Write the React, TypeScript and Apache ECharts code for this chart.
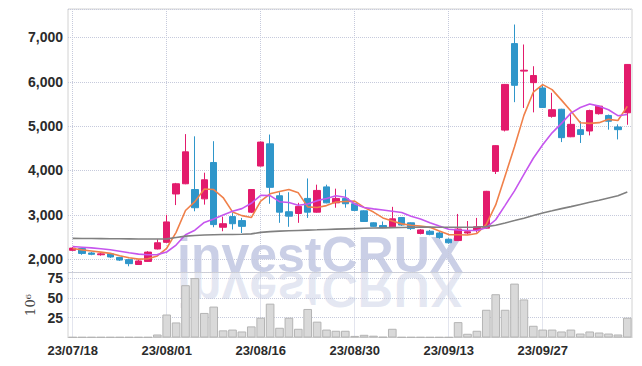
import React, { useEffect, useRef } from 'react';
import * as echarts from 'echarts';

const dates = [
  '23/07/18', '23/07/19', '23/07/20', '23/07/21', '23/07/24', '23/07/25', '23/07/26', '23/07/27', '23/07/28', '23/07/31',
  '23/08/01', '23/08/02', '23/08/03', '23/08/04', '23/08/07', '23/08/08', '23/08/09', '23/08/10', '23/08/11', '23/08/14',
  '23/08/16', '23/08/17', '23/08/18', '23/08/21', '23/08/22', '23/08/23', '23/08/24', '23/08/25', '23/08/28', '23/08/29',
  '23/08/30', '23/08/31', '23/09/01', '23/09/04', '23/09/05', '23/09/06', '23/09/07', '23/09/08', '23/09/11', '23/09/12',
  '23/09/13', '23/09/14', '23/09/15', '23/09/18', '23/09/19', '23/09/20', '23/09/21', '23/09/22', '23/09/25', '23/09/26',
  '23/09/27', '23/10/04', '23/10/05', '23/10/06', '23/10/10', '23/10/11', '23/10/12', '23/10/13', '23/10/16', '23/10/17',
];

const opens = [
  2200, 2240, 2140, 2100, 2120, 2040, 1990, 1880, 1950, 2230,
  2380, 3470, 3700, 3570, 3360, 4180, 2720, 2960, 2870, 3060,
  4100, 4600, 3430, 3070, 3030, 3370, 3060, 3630, 3270, 3370,
  3250, 3090, 2820, 2760, 2730, 2940, 2820, 2580, 2630, 2590,
  2450, 2420, 2590, 2650, 2700, 3980, 4910, 6860, 6240, 5980,
  5860, 5220, 5380, 4760, 4920, 4890, 5280, 5240, 4980, 5300,
];
const closes = [
  2250, 2130, 2110, 2120, 2050, 1980, 1900, 1960, 2160, 2370,
  2840, 3700, 4420, 3160, 3790, 2780, 2800, 2800, 2740, 3570,
  4640, 3620, 3060, 2970, 3190, 3060, 3550, 3270, 3370, 3250,
  3100, 2850, 2740, 2710, 2910, 2770, 2690, 2660, 2560, 2490,
  2370, 2680, 2620, 2730, 3530, 4560, 5940, 5920, 6260, 6140,
  5420, 5370, 4740, 5040, 4810, 5350, 5450, 5110, 4920, 6390,
];
const lows = [
  2190, 2100, 2090, 2080, 2030, 1960, 1840, 1870, 1940, 2220,
  2370, 3220, 3690, 3080, 3230, 2720, 2630, 2670, 2590, 3040,
  4090, 3250, 2820, 2730, 2820, 2930, 3050, 3260, 3160, 3160,
  3090, 2840, 2730, 2700, 2720, 2750, 2660, 2560, 2540, 2460,
  2350, 2410, 2560, 2600, 2690, 3920, 4880, 5540, 5410, 5310,
  5410, 5190, 4640, 4750, 4620, 4790, 5260, 4920, 4700, 5030,
];
const highs = [
  2270, 2250, 2160, 2140, 2140, 2050, 2010, 1990, 2180, 2450,
  3000, 3720, 4820, 4770, 3950, 4660, 2960, 3040, 2930, 3580,
  4650, 4810, 3510, 3510, 3270, 3820, 3680, 3680, 3590, 3570,
  3270, 3100, 2830, 2850, 3180, 2950, 2830, 2680, 2660, 2620,
  2470, 3020, 2860, 2930, 3540, 4570, 5950, 7290, 6840, 6350,
  5920, 5750, 5390, 5300, 5110, 5370, 5460, 5260, 5040, 6400,
];

// trading volume, in millions of shares
const volumes = [
  0.5, 0.5, 0.5, 0.5, 0.5, 0.5, 0.5, 0.5, 0.5, 3.8,
  29, 19, 66, 75, 31, 39, 9, 10, 7.6, 14,
  25, 42.7, 12.3, 25, 11, 36, 20, 10, 8.5, 8.5,
  2, 3.4, 2.3, 0.8, 11, 0.5, 0.5, 0.5, 0.4, 0.4,
  0.4, 19.4, 4.7, 8.5, 35, 54.6, 35, 68, 48, 14.8,
  10, 10, 7.6, 10, 5, 7.6, 6.3, 5, 3.8, 25,
];

// moving averages as drawn in the reference
const ma5 = [
  2240, 2210, 2185, 2160, 2132, 2078, 2032, 2002, 2010, 2074,
  2246, 2606, 3098, 3298, 3582, 3570, 3390, 3066, 2982, 2938,
  3310, 3474, 3526, 3572, 3496, 3180, 3166, 3208, 3288, 3300,
  3308, 3168, 3062, 2930, 2862, 2796, 2764, 2748, 2718, 2634,
  2554, 2552, 2544, 2578, 2786, 3224, 3876, 4536, 5242, 5764,
  5936, 5822, 5586, 5342, 5076, 5062, 5078, 5152, 5128, 5444,
];
const ma10 = [
  2285, 2270, 2255, 2235, 2214, 2180, 2145, 2115, 2100, 2103,
  2162, 2319, 2550, 2654, 2828, 2908, 2998, 3082, 3140, 3260,
  3440, 3432, 3296, 3277, 3217, 3245, 3320, 3367, 3430, 3398,
  3244, 3167, 3135, 3109, 3081, 3052, 2966, 2905, 2824, 2748,
  2675, 2658, 2646, 2648, 2710, 2889, 3214, 3540, 3910, 4275,
  4580, 4849, 5061, 5292, 5420, 5499, 5450, 5369, 5235, 5260,
];
const maLong = [
  2470, 2468, 2466, 2464, 2462, 2460, 2458, 2456, 2455, 2455,
  2458, 2490, 2520, 2535, 2545, 2550, 2555, 2558, 2562, 2570,
  2605, 2622, 2632, 2640, 2648, 2655, 2662, 2670, 2677, 2684,
  2690, 2696, 2702, 2707, 2712, 2716, 2720, 2722, 2722, 2721,
  2720, 2720, 2721, 2724, 2735, 2765, 2817, 2870, 2925, 2985,
  3043, 3090, 3140, 3185, 3235, 3285, 3330, 3380, 3430, 3515,
];

const upColor = '#e31b6c';
const downColor = '#2f96ca';
const gridLine = '#c6cadc';
const borderCol = '#d2d2d2';
const labelFont = "'Liberation Sans Narrow', 'Liberation Sans', Arial, sans-serif";

export default function App() {
  const ref = useRef<HTMLDivElement>(null);

  useEffect(() => {
    if (!ref.current) return;
    const chart = echarts.init(ref.current, null, { renderer: 'svg' });
    const baseLabel = {
      color: '#2b2b2b',
      fontFamily: labelFont,
      fontWeight: 'bold' as const,
    };
    const candleData = dates.map((_, i) => [opens[i], closes[i], lows[i], highs[i]]);

    chart.setOption({
      animation: false,
      backgroundColor: '#ffffff',
      grid: [
        { left: 68, right: 10, top: 9, height: 263.5, show: true, borderColor: borderCol, borderWidth: 1 },
        { left: 68, right: 10, top: 272.5, bottom: 28.5, show: true, borderColor: borderCol, borderWidth: 1 },
      ],
      xAxis: [
        {
          type: 'category',
          gridIndex: 0,
          data: dates,
          boundaryGap: true,
          axisLine: { show: false },
          axisTick: { show: false },
          axisLabel: { show: false },
          splitLine: { show: true, interval: 9, alignWithLabel: true, lineStyle: { color: gridLine, type: 'dotted', width: 1 } },
        },
        {
          type: 'category',
          gridIndex: 1,
          data: dates,
          boundaryGap: true,
          axisLine: { show: true, lineStyle: { color: borderCol } },
          axisTick: { show: false },
          axisLabel: { interval: 9, margin: 6, fontSize: 13, ...baseLabel },
          splitLine: { show: true, interval: 9, alignWithLabel: true, lineStyle: { color: gridLine, type: 'dotted', width: 1 } },
        },
      ],
      yAxis: [
        {
          type: 'value',
          gridIndex: 0,
          min: 1700,
          max: 7640,
          axisLine: { show: false },
          axisTick: { show: false },
          axisLabel: {
            showMinLabel: false,
            showMaxLabel: false,
            margin: 5,
            fontSize: 14,
            formatter: (v: number) => v.toLocaleString('en-US'),
            ...baseLabel,
          },
          splitLine: { lineStyle: { color: gridLine, type: 'dotted', width: 1 } },
        },
        {
          type: 'value',
          gridIndex: 1,
          min: 0,
          max: 82,
          interval: 25,
          name: '10⁶',
          nameLocation: 'middle',
          nameRotate: 90,
          nameGap: 31,
          nameTextStyle: {
            fontFamily: "'DejaVu Serif', 'Liberation Serif', serif",
            fontSize: 13,
            color: '#444',
          },
          axisLine: { show: false },
          axisTick: { show: false },
          axisLabel: { showMinLabel: false, showMaxLabel: false, margin: 5, fontSize: 14, ...baseLabel },
          splitLine: { lineStyle: { color: gridLine, type: 'dotted', width: 1 } },
        },
      ],
      graphic: [
        {
          type: 'text',
          x: 177,
          y: 272,
          z: -10,
          silent: true,
          style: {
            text: 'investCRUX',
            x: 0,
            y: -17,
            verticalAlign: 'middle',
            fontFamily: "'Liberation Sans', Arial, sans-serif",
            fontWeight: 'bold',
            fontSize: 50,
            fill: 'rgba(150,160,205,0.5)',
          },
        },
        {
          type: 'text',
          x: 177,
          y: 272,
          scaleY: -1,
          z: -10,
          silent: true,
          style: {
            text: 'investCRUX',
            x: 0,
            y: -17,
            verticalAlign: 'middle',
            fontFamily: "'Liberation Sans', Arial, sans-serif",
            fontWeight: 'bold',
            fontSize: 50,
            fill: 'rgba(150,160,205,0.25)',
          },
        },
      ],
      series: [
        {
          type: 'candlestick',
          xAxisIndex: 0,
          yAxisIndex: 0,
          data: candleData,
          barWidth: 7,
          itemStyle: {
            color: upColor,
            color0: downColor,
            borderColor: upColor,
            borderColor0: downColor,
            borderWidth: 1,
          },
        },
        {
          type: 'line',
          name: 'MA5',
          xAxisIndex: 0,
          yAxisIndex: 0,
          data: ma5,
          symbol: 'none',
          lineStyle: { color: '#f0804a', width: 1.6 },
        },
        {
          type: 'line',
          name: 'MA10',
          xAxisIndex: 0,
          yAxisIndex: 0,
          data: ma10,
          symbol: 'none',
          lineStyle: { color: '#c656ee', width: 1.6 },
        },
        {
          type: 'line',
          name: 'MA60',
          xAxisIndex: 0,
          yAxisIndex: 0,
          data: maLong,
          symbol: 'none',
          lineStyle: { color: '#808080', width: 1.6 },
        },
        {
          type: 'bar',
          xAxisIndex: 1,
          yAxisIndex: 1,
          data: volumes,
          barCategoryGap: '8%',
          itemStyle: { color: '#d9d9d9', borderColor: '#b4b4b4', borderWidth: 1 },
        },
      ],
    });
    return () => chart.dispose();
  }, []);

  return (
    <div
      ref={ref}
      style={{ position: 'fixed', left: 0, top: 0, width: 642, height: 366, background: '#fff' }}
    />
  );
}
